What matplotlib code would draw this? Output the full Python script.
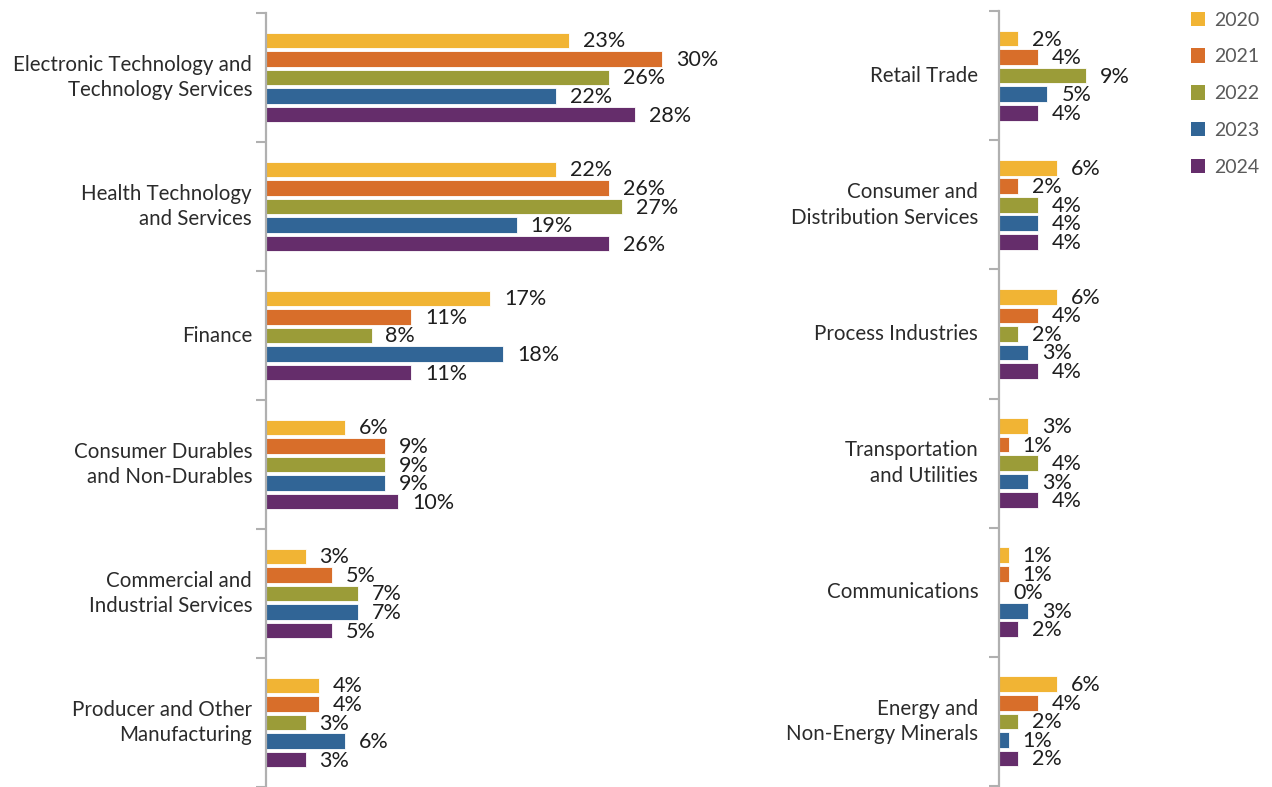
import numpy as np
import matplotlib
matplotlib.use("Agg")
from matplotlib import pyplot as plt
from matplotlib.patches import Patch

plt.rcParams["font.family"] = ["Lato", "DejaVu Sans"]

years = ["2020", "2021", "2022", "2023", "2024"]
colors = ["#F1B434", "#D86E2A", "#9B9C38", "#316596", "#652D6B"]

left_sectors = [
    "Electronic Technology and\nTechnology Services",
    "Health Technology\nand Services",
    "Finance",
    "Consumer Durables\nand Non-Durables",
    "Commercial and\nIndustrial Services",
    "Producer and Other\nManufacturing",
]
left_values = [
    [23, 30, 26, 22, 28],
    [22, 26, 27, 19, 26],
    [17, 11, 8, 18, 11],
    [6, 9, 9, 9, 10],
    [3, 5, 7, 7, 5],
    [4, 4, 3, 6, 3],
]

right_sectors = [
    "Retail Trade",
    "Consumer and\nDistribution Services",
    "Process Industries",
    "Transportation\nand Utilities",
    "Communications",
    "Energy and\nNon-Energy Minerals",
]
right_values = [
    [2, 4, 9, 5, 4],
    [6, 2, 4, 4, 4],
    [6, 4, 2, 3, 4],
    [3, 1, 4, 3, 4],
    [1, 1, 0, 3, 2],
    [6, 4, 2, 1, 2],
]

W, H = 1272, 787
fig = plt.figure(figsize=(W / 100, H / 100), dpi=100)


def px_axes(x0, y_top, width, y_bottom):
    return fig.add_axes([x0 / W, 1 - y_bottom / H, width / W, (y_bottom - y_top) / H])


def draw_panel(ax, sectors, values, xmax, pad):
    n = len(sectors)
    step = 0.1435
    height = 0.122
    for i, row in enumerate(values):
        center = n - i - 0.5
        for k, v in enumerate(row):
            y = center + (2 - k) * step
            ax.barh(y, v, height=height, color=colors[k], edgecolor="#ffffff",
                    linewidth=0.6)
            ax.annotate(f"{v}%", xy=(v, y), xytext=(14, -1),
                        textcoords="offset pixels", ha="left", va="center",
                        fontsize=15.5, color="#1e1e1e", annotation_clip=False)
    ax.set_xlim(0, xmax)
    ax.set_ylim(0, n)
    ax.set_yticks(np.arange(n) + 0.5)
    ax.set_yticklabels(sectors[::-1], fontsize=14.8, color="#2b2b2b",
                       ha="right", va="center", linespacing=1.36)
    ax.set_yticks(np.arange(n + 1), minor=True)
    ax.tick_params(axis="y", which="major", length=0, pad=pad)
    ax.tick_params(axis="y", which="minor", length=7, width=1.5,
                   color="#b0b0b0", direction="out")
    ax.set_xticks([])
    for side in ["top", "right", "bottom"]:
        ax.spines[side].set_visible(False)
    ax.spines["left"].set_color("#b0b0b0")
    ax.spines["left"].set_linewidth(1.6)
    ax.patch.set_alpha(0)


ax_left = px_axes(266, 13, 422, 787)
draw_panel(ax_left, left_sectors, left_values, 32, pad=10)

ax_right = px_axes(999, 11, 184, 786)
draw_panel(ax_right, right_sectors, right_values, 19, pad=15)

handles = [Patch(facecolor=c, edgecolor="none") for c in colors]
fig.legend(handles, years, loc="upper left", bbox_to_anchor=(1173 / W, 1 + 6 / H),
           frameon=False, handlelength=0.75, handleheight=0.75,
           handletextpad=0.45, labelspacing=1.02, labelcolor="#5a5a5a",
           prop={"size": 14})

fig.savefig("out.png", dpi=100)
